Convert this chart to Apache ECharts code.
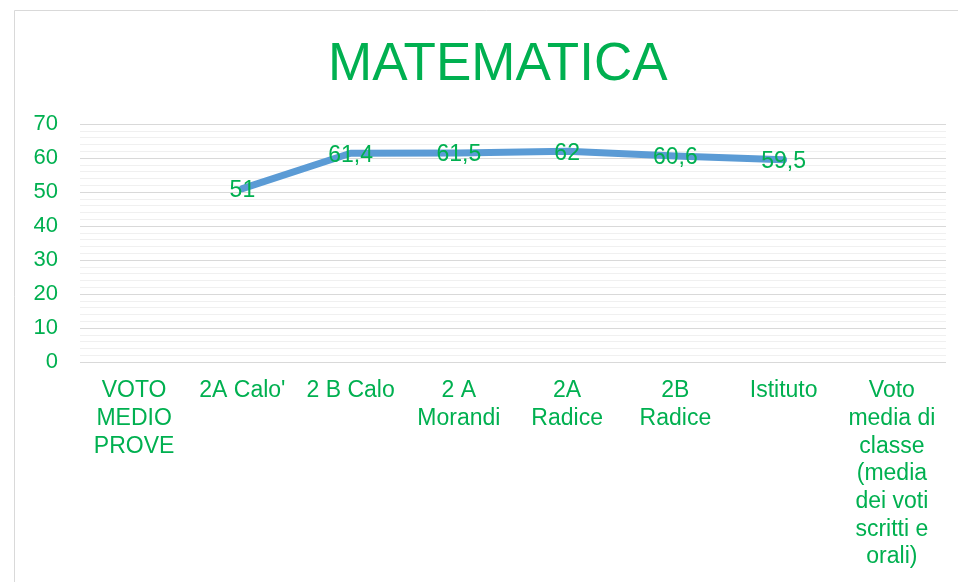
<!DOCTYPE html>
<html>
<head>
<meta charset="utf-8">
<script src="https://cdn.jsdelivr.net/npm/echarts@6/dist/echarts.min.js"></script>
<style>
  html, body { margin: 0; padding: 0; background: #fff; }
  #chart { width: 958px; height: 582px; }
</style>
</head>
<body>
<div id="chart"></div>
<script>
// valori
const categories = [
  "VOTO\nMEDIO\nPROVE",
  "2A Calo'",
  "2 B Calo",
  "2 A\nMorandi",
  "2A\nRadice",
  "2B\nRadice",
  "Istituto",
  "Voto\nmedia di\nclasse\n(media\ndei voti\nscritti e\norali)"
];
const values = [null, 51, 61.4, 61.5, 62, 60.6, 59.5, null];
const yTicks = { min: 0, max: 70, step: 10 };

const green = '#00B050';
const font = 'Liberation Sans, Arial, sans-serif';

let chart = echarts.init(document.getElementById('chart'));

let options = {
  backgroundColor: '#fff',
  animation: false,
  graphic: [{
    type: 'rect',
    shape: { x: 14.5, y: 10.5, width: 980, height: 600 },
    style: { fill: 'none', stroke: '#d9d9d9', lineWidth: 1 },
    silent: true
  }],
  title: {
    text: 'MATEMATICA',
    left: 323,
    top: 34,
    textStyle: { color: green, fontSize: 53, fontWeight: 'normal', fontFamily: font }
  },
  grid: { left: 80, right: 12, top: 124, bottom: 220 },
  xAxis: {
    type: 'category',
    data: categories,
    boundaryGap: true,
    axisLine: { show: false },
    axisTick: { show: false },
    axisLabel: {
      color: green, fontSize: 23, fontFamily: font,
      lineHeight: 27.7, margin: 15, interval: 0
    }
  },
  yAxis: {
    type: 'value',
    min: yTicks.min,
    max: yTicks.max,
    interval: yTicks.step,
    axisLine: { show: false },
    axisTick: { show: false },
    axisLabel: { color: green, fontSize: 22, fontFamily: font, margin: 22 },
    splitLine: { lineStyle: { color: '#d9d9d9', width: 1 } },
    minorTick: { show: false, splitNumber: 5 },
    minorSplitLine: { show: true, lineStyle: { color: '#f0f0f0', width: 1 } }
  },
  series: [{
    type: 'line',
    data: values,
    symbol: 'circle',
    symbolSize: 1,
    showSymbol: true,
    itemStyle: { color: 'rgba(91,155,213,0)' },
    lineStyle: { color: '#5B9BD5', width: 7, cap: 'round', join: 'round' },
    label: {
      show: true,
      position: 'inside',
      offset: [0, 2],
      color: green,
      fontSize: 23,
      fontFamily: font,
      formatter: p => String(p.value).replace('.', ',')
    }
  }]
};

chart.setOption(options);
</script>
</body>
</html>
